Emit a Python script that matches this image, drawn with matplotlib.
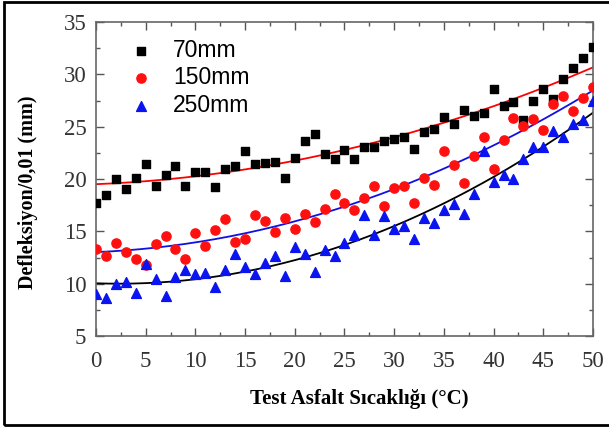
import matplotlib
matplotlib.use('Agg')
import matplotlib.pyplot as plt
import numpy as np
from matplotlib.patches import Rectangle
from matplotlib.ticker import MultipleLocator

# temperature (C), one reading per degree
temp = np.arange(0, 51)

defl_70 = [17.7, 18.5, 20.0, 19.0, 20.1, 21.4, 19.3, 20.4, 21.2, 19.3,
           20.7, 20.7, 19.2, 21.0, 21.2, 22.7, 21.4, 21.5, 21.6, 20.1,
           22.0, 23.6, 24.3, 22.4, 21.9, 22.8, 21.9, 23.1, 23.1, 23.6,
           23.8, 24.0, 22.9, 24.5, 24.8, 25.9, 25.3, 26.6, 26.0, 26.3,
           28.6, 27.0, 27.4, 25.6, 27.5, 28.6, 27.6, 29.6, 30.6, 31.6,
           32.6]
defl_150 = [13.3, 12.6, 13.85, 13.0, 12.35, 11.75, 13.75, 14.55, 13.3, 12.35,
            14.8, 13.6, 15.1, 16.2, 14.0, 14.25, 16.6, 16.0, 14.95, 16.3,
            15.25, 16.7, 15.85, 17.15, 18.6, 17.7, 17.0, 18.2, 19.3, 17.4,
            19.1, 19.3, 17.7, 20.1, 19.4, 22.7, 21.3, 19.6, 22.2, 24.0,
            21.0, 23.7, 25.8, 25.1, 25.7, 24.7, 27.2, 27.9, 26.5, 27.7,
            28.75]
defl_250 = [9.0, 8.6, 10.0, 10.2, 9.1, 11.9, 10.4, 8.85, 10.6, 11.3,
            10.9, 11.05, 9.65, 11.3, 12.8, 11.6, 10.9, 12.0, 12.65, 10.7,
            13.5, 12.85, 11.15, 13.2, 12.65, 13.85, 14.65, 16.55, 14.65, 16.45,
            15.2, 15.5, 14.25, 16.25, 15.8, 17.05, 17.6, 16.7, 18.55, 22.7,
            19.7, 20.4, 20.0, 21.9, 23.1, 23.1, 24.6, 24.05, 25.3, 25.6,
            27.5]

fig = plt.figure(figsize=(6.09, 4.30), dpi=100)
ax = fig.add_axes([0.1576, 0.2186, 0.9737 - 0.1576, 0.9488 - 0.2186])

# fitted trend curves (2nd order), colours as in the source figure
xs = np.linspace(0, 50, 200)
for ys, col in [(defl_70, 'red'), (defl_150, '#1010e0'), (defl_250, 'black')]:
    c = np.polyfit(temp, ys, 2)
    ax.plot(xs, np.polyval(c, xs), color=col, lw=1.3, zorder=2)

ax.scatter(temp, defl_70, marker='s', s=34, color='black', label='70mm', zorder=3)
ax.scatter(temp, defl_150, marker='o', s=44, color='#ff1010', label='150mm', zorder=3)
ax.scatter(temp, defl_250, marker='^', s=50, color='#0a14f0', label='250mm', zorder=3)

ax.set_xlim(0, 50)
ax.set_ylim(5, 35)
ax.xaxis.set_major_locator(MultipleLocator(5))
ax.xaxis.set_minor_locator(MultipleLocator(2.5))
ax.yaxis.set_major_locator(MultipleLocator(5))
ax.yaxis.set_minor_locator(MultipleLocator(2.5))
ax.tick_params(which='both', direction='in', top=True, right=True, color='#555555')
ax.tick_params(which='major', length=6, width=1)
ax.tick_params(which='minor', length=3, width=1)
ax.tick_params(labelsize=16.5)
ax.tick_params(axis='x', pad=11)
ax.tick_params(axis='y', pad=7)
for lab in ax.get_xticklabels() + ax.get_yticklabels():
    lab.set_fontfamily('Liberation Serif')
    lab.set_color('#333333')
for sp in ax.spines.values():
    sp.set_color('#666666')
    sp.set_linewidth(1.2)

ax.set_xlabel('Test Asfalt Sıcaklığı (°C)', family='Liberation Serif',
              fontweight='bold', fontsize=15)
ax.set_ylabel('Defleksiyon/0,01 (mm)', family='Liberation Serif',
              fontweight='bold', fontsize=14.5)
ax.xaxis.set_label_coords(0.529, -0.17)
ax.yaxis.set_label_coords(-0.116, 0.459)

leg = ax.legend(loc='upper left', bbox_to_anchor=(0.022, 1.012), frameon=False,
                prop={'family': 'Liberation Sans', 'size': 16.5},
                handletextpad=0.8, labelspacing=0.2, handlelength=1.2,
                scatterpoints=1)

# outer frame around the whole picture
fig.patches.append(Rectangle((4 / 609, 1 - 425 / 430), 1.1, 425 / 430 - 2 / 430,
                             transform=fig.transFigure, fill=False,
                             edgecolor='black', lw=2))

fig.savefig('out.png', dpi=100)
